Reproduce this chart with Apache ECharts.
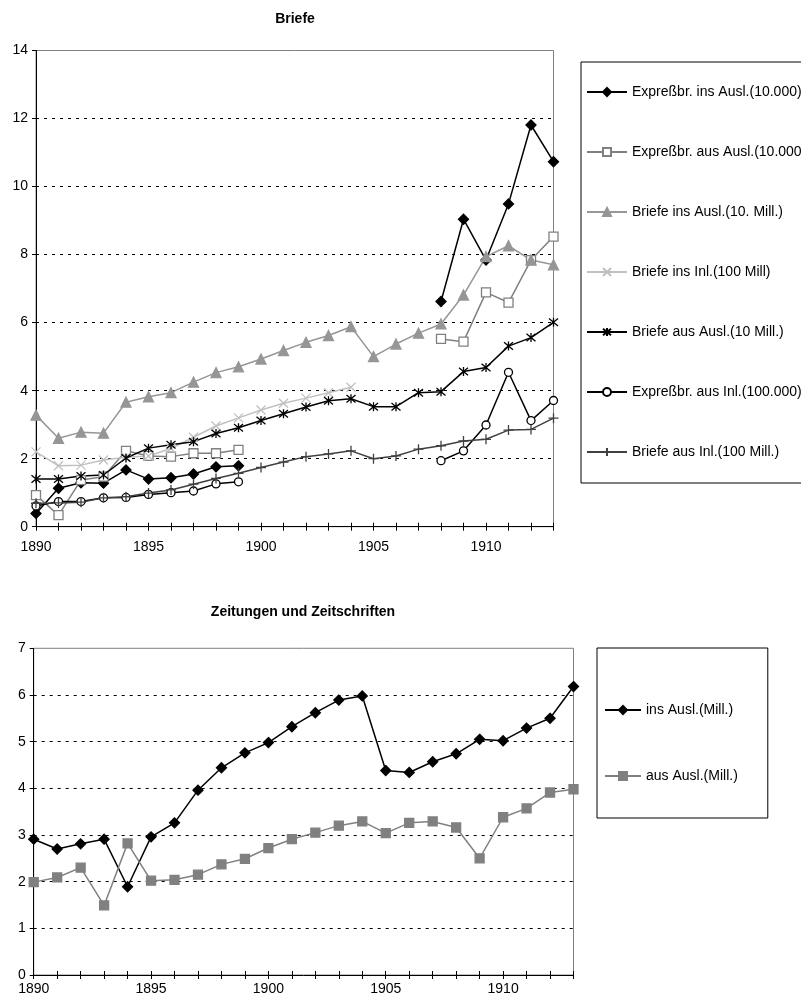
<!DOCTYPE html>
<html>
<head>
<meta charset="utf-8">
<script src="https://cdn.jsdelivr.net/npm/echarts@6/dist/echarts.min.js"></script>
<style>
  html, body { margin: 0; padding: 0; background: #fff; }
  #chart { width: 801px; height: 1003px; }
</style>
</head>
<body>
<div id="chart"></div>
<script>
// Years on the horizontal axis (both panels)
const years = ['1890','1891','1892','1893','1894','1895','1896','1897','1898','1899','1900','1901',
               '1902','1903','1904','1905','1906','1907','1908','1909','1910','1911','1912','1913'];

// Panel 1: Briefe
const expressInsAusland = [0.39,1.13,1.29,1.28,1.67,1.40,1.44,1.55,1.76,1.79,
                           null,null,null,null,null,null,null,null,
                           6.62,9.04,7.84,9.49,11.81,10.73];
const expressAusAusland = [0.93,0.34,1.37,1.47,2.23,2.08,2.06,2.16,2.16,2.26,
                           null,null,null,null,null,null,null,null,
                           5.52,5.44,6.89,6.59,7.84,8.53];
const briefeInsAusland  = [3.28,2.60,2.78,2.75,3.66,3.82,3.94,4.25,4.53,4.70,4.93,5.18,
                           5.42,5.62,5.88,5.00,5.37,5.69,5.96,6.81,7.94,8.26,7.84,7.70];
const briefeInsInland   = [2.20,1.79,1.81,1.96,2.04,2.08,2.30,2.63,2.96,3.20,3.43,3.63,
                           3.78,3.94,4.10,null,null,null,null,null,null,null,null,null];
const briefeAusAusland  = [1.40,1.40,1.49,1.52,2.02,2.31,2.41,2.50,2.74,2.91,3.12,3.32,
                           3.52,3.70,3.76,3.53,3.53,3.94,3.97,4.56,4.68,5.31,5.56,6.01];
const expressAusInland  = [0.61,0.74,0.74,0.85,0.86,0.95,1.00,1.05,1.26,1.32,
                           null,null,null,null,null,null,null,null,
                           1.94,2.23,2.99,4.54,3.12,3.71];
const briefeAusInland   = [0.69,0.70,0.72,0.85,0.88,0.99,1.08,1.25,1.42,1.57,1.74,1.90,
                           2.06,2.14,2.23,2.00,2.08,2.28,2.38,2.52,2.57,2.84,2.86,3.19];

// Panel 2: Zeitungen und Zeitschriften
const zeitungenInsAusland = [2.91,2.70,2.81,2.91,1.89,2.96,3.26,3.96,4.44,4.76,4.98,5.32,
                             5.62,5.89,5.98,4.38,4.34,4.57,4.74,5.05,5.02,5.29,5.50,6.18];
const zeitungenAusAusland = [1.99,2.09,2.30,1.49,2.82,2.02,2.04,2.15,2.37,2.49,2.72,2.91,
                             3.05,3.20,3.29,3.04,3.26,3.29,3.16,2.50,3.38,3.57,3.91,3.98];

// Legend names
const namesTop = ['Expreßbr. ins Ausl.(10.000)', 'Expreßbr. aus Ausl.(10.000)', 'Briefe ins Ausl.(10. Mill.)',
                  'Briefe ins Inl.(100 Mill)', 'Briefe aus Ausl.(10 Mill.)', 'Expreßbr. aus Inl.(100.000)',
                  'Briefe aus Inl.(100 Mill.)'];
const namesBottom = ['ins Ausl.(Mill.)', 'aus Ausl.(Mill.)'];

const FONT = '"Liberation Sans", Arial, sans-serif';

const SYM_X = 'path://M0,0L10,10M10,0L0,10';
const SYM_STAR = 'path://M0,0L10,10M10,0L0,10M5,-1L5,11';
const SYM_PLUS = 'path://M5,0L5,10M0,5L10,5';

function xAxes(gridIndex, labelMargin) {
  const base = {
    type: 'category', gridIndex, data: years, boundaryGap: false, position: 'bottom'
  };
  return [
    Object.assign({}, base, {
      axisLine: { show: true, lineStyle: { color: '#000', width: 1 } },
      axisTick: { show: true, interval: 0, length: 4, lineStyle: { color: '#000' } },
      axisLabel: {
        interval: (i) => i % 5 === 0, margin: labelMargin,
        color: '#000', fontSize: 14, fontFamily: FONT
      },
      splitLine: { show: false }
    }),
    Object.assign({}, base, {
      axisLine: { show: false },
      axisTick: { show: true, inside: true, interval: 0, length: 4, lineStyle: { color: '#000' } },
      axisLabel: { show: false },
      splitLine: { show: false }
    })
  ];
}

function yAxis(gridIndex, max, interval) {
  return {
    type: 'value', gridIndex, min: 0, max, interval,
    axisLine: { show: true, lineStyle: { color: '#000', width: 1 } },
    axisTick: { show: true, length: 4, lineStyle: { color: '#000' } },
    axisLabel: { margin: 8, color: '#000', fontSize: 14, fontFamily: FONT },
    splitLine: { show: true, showMaxLine: false, lineStyle: { color: '#000', type: [3, 5], width: 1 } }
  };
}

function lineSeries(name, data, xIdx, yIdx, color, symbol, size, fill) {
  return {
    name, type: 'line', data,
    xAxisIndex: xIdx, yAxisIndex: yIdx,
    symbol, symbolSize: size, showSymbol: true, connectNulls: false,
    lineStyle: { color, width: 1.5 },
    itemStyle: { color: fill, borderColor: color, borderWidth: 1.3 },
    emphasis: { disabled: true },
    animation: false
  };
}

const chart = echarts.init(document.getElementById('chart'), null, { renderer: 'canvas' });

chart.setOption({
  backgroundColor: '#fff',
  animation: false,
  graphic: [
    { type: 'text', x: 295, y: 19, style: { text: 'Briefe', font: 'bold 14px ' + FONT, fill: '#000', textAlign: 'center', textVerticalAlign: 'middle' } },
    { type: 'text', x: 303, y: 612, style: { text: 'Zeitungen und Zeitschriften', font: 'bold 14px ' + FONT, fill: '#000', textAlign: 'center', textVerticalAlign: 'middle' } }
  ],
  grid: [
    { left: 36, top: 50.5, width: 517.5, height: 476.2, show: true, borderColor: '#808080', borderWidth: 1, backgroundColor: '#fff', containLabel: false },
    { left: 33.7, top: 648.3, width: 539.8, height: 326.7, show: true, borderColor: '#808080', borderWidth: 1, backgroundColor: '#fff', containLabel: false }
  ],
  xAxis: xAxes(0, 13).concat(xAxes(1, 7)),
  yAxis: [yAxis(0, 14, 2), yAxis(1, 7, 1)],
  legend: [
    {
      data: namesTop, orient: 'vertical', left: 581, top: 62,
      itemWidth: 40, itemHeight: 10, itemGap: 44,
      padding: [22, 40, 23, 5],
      borderColor: '#000', borderWidth: 1, backgroundColor: '#fff',
      selectedMode: false,
      textStyle: { color: '#000', fontSize: 14, fontFamily: FONT, lineHeight: 16 }
    },
    {
      data: namesBottom, orient: 'vertical', left: 597, top: 648,
      itemWidth: 36, itemHeight: 10, itemGap: 50,
      padding: [54, 30, 34, 7],
      borderColor: '#000', borderWidth: 1, backgroundColor: '#fff',
      selectedMode: false,
      textStyle: { color: '#000', fontSize: 14, fontFamily: FONT, lineHeight: 16 }
    }
  ],
  series: [
    lineSeries(namesTop[0], expressInsAusland, 0, 0, '#000000', 'diamond', 10, '#000000'),
    lineSeries(namesTop[1], expressAusAusland, 0, 0, '#808080', 'rect', 9, '#ffffff'),
    lineSeries(namesTop[2], briefeInsAusland, 0, 0, '#969696', 'triangle', 10, '#969696'),
    lineSeries(namesTop[3], briefeInsInland, 0, 0, '#c0c0c0', SYM_X, 9, 'transparent'),
    lineSeries(namesTop[4], briefeAusAusland, 0, 0, '#000000', SYM_STAR, 9, 'transparent'),
    lineSeries(namesTop[5], expressAusInland, 0, 0, '#000000', 'circle', 8, '#ffffff'),
    lineSeries(namesTop[6], briefeAusInland, 0, 0, '#404040', SYM_PLUS, 10, 'transparent'),
    lineSeries(namesBottom[0], zeitungenInsAusland, 2, 1, '#000000', 'diamond', 10, '#000000'),
    lineSeries(namesBottom[1], zeitungenAusAusland, 2, 1, '#808080', 'rect', 9, '#808080')
  ]
});
</script>
</body>
</html>
